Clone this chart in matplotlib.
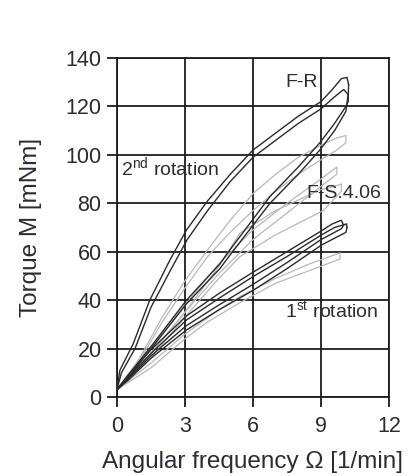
import matplotlib
matplotlib.use('Agg')
import matplotlib.pyplot as plt

plt.rcParams['font.family'] = ['Liberation Sans', 'DejaVu Sans']
plt.rcParams['mathtext.fontset'] = 'custom'
plt.rcParams['mathtext.rm'] = 'Liberation Sans'
plt.rcParams['mathtext.it'] = 'Liberation Sans:italic'

# ---- axis ticks ----
x_ticks = [0, 3, 6, 9, 12]
y_ticks = [0, 20, 40, 60, 80, 100, 120, 140]

# ---- dark curves (F-R), upper loop: 2nd rotation ascending + descending ----
up1_w = [0, 0.13, 0.72, 1.45, 2.34, 3.07, 4.0, 5.0, 6.0, 7.0, 8.0, 9.0, 9.5, 9.9, 10.15, 10.22]
up1_t = [3, 11, 22, 40, 56.6, 69, 81, 92, 102, 109, 116, 122, 127, 131.5, 132, 129]
dn1_w = [10.22, 10.2, 10.1, 9.6, 8.95, 8.0, 6.75, 6.09, 4.98, 4.54, 3.07, 1.6, 0.5, 0]
dn1_t = [129, 122, 120, 113, 105, 95, 82.8, 74.5, 60.7, 55, 40, 22, 9, 3]

up2_w = [0, 0.2, 0.8, 1.5, 2.4, 3.1, 4.0, 5.0, 6.0, 7.0, 8.0, 9.0, 9.6, 10.0, 10.2]
up2_t = [3, 10, 20, 37, 53, 65, 77, 89, 99, 106, 113, 119, 124, 127, 125]
dn2_w = [10.2, 10.1, 9.6, 8.95, 8.0, 6.75, 6.09, 4.98, 4.54, 3.07, 1.6, 0.5, 0]
dn2_t = [125, 118, 110, 102, 92, 80, 72, 58.5, 53, 38.5, 21, 8, 3]

# ---- dark curves, lower loop: 1st rotation ----
lo1_w = [0, 0.5, 1.5, 3.07, 4.54, 6.0, 7.5, 9.03, 9.6, 10.13, 10.15]
lo1_t = [3, 8, 18, 31.8, 41, 49.7, 58, 67, 70, 71.5, 70]
lo2_w = [10.15, 10.1, 9.03, 7.5, 6.0, 4.5, 3.07, 1.5, 0.5, 0]
lo2_t = [70, 68, 62.8, 53, 44, 36, 27.7, 16, 7, 3]
lo3_w = [0, 0.5, 1.5, 3.07, 4.54, 6.0, 7.5, 9.0, 9.5, 9.9, 10.0]
lo3_t = [3, 9, 19.5, 33.5, 43, 51.5, 60, 68.5, 71.5, 73, 71]
lo4_w = [10.0, 9.9, 9.0, 7.5, 6.0, 4.5, 3.07, 1.5, 0.5, 0]
lo4_t = [71, 69.5, 65, 55.5, 46.5, 38, 29.5, 17, 7.5, 3]

# ---- grey curves (F-S.4.06) ----
ga_w = [0, 1, 2, 3, 4.1, 5, 6, 7, 8, 9, 9.7, 10.1, 10.1, 9.7, 9, 8, 7, 6, 5, 4, 3, 2, 1, 0]
ga_t = [3, 16, 33, 48, 62, 73, 84, 92, 99, 104, 107, 108, 105, 102, 98, 92, 85, 77, 68, 58, 45, 31, 15, 3]
gb_w = [0, 1.5, 3, 4.5, 5.43, 7, 8.95, 9.6, 9.9, 9.9, 9.5, 9.1, 7, 5.43, 4.5, 3, 1.5, 0]
gb_t = [3, 18, 35, 54, 67.7, 77, 85.5, 87, 88, 85, 81, 77, 67, 58, 49, 33, 16, 3]
gc_w = [0, 1.5, 3, 4.5, 5.43, 7, 8.5, 9.84, 9.84, 9, 7, 5.43, 4, 3, 1.5, 0]
gc_t = [3, 14, 26, 36, 41.5, 49, 55, 59.5, 57, 54, 47, 39, 31, 24, 12, 3]
gd_w = [0, 1.5, 3, 4.5, 6, 7.5, 9, 9.7, 9.7, 9, 7.5, 6, 4.5, 3, 1.5, 0]
gd_t = [3, 20, 38, 55, 69, 80, 90, 95, 92, 87, 76, 65, 51, 35, 18, 3]

ink = '#1c1c1c'
txt = '#2b2b33'

fig = plt.figure(figsize=(4.16, 4.76), dpi=100)
fig.patch.set_facecolor('white')
ax = fig.add_axes([0.281, 0.166, 0.654, 0.712])
ax.set_xlim(0, 12)
ax.set_ylim(0, 140)
ax.set_xticks(x_ticks)
ax.set_yticks(y_ticks)
ax.grid(True, color=ink, lw=1.3, zorder=0)
ax.set_axisbelow(True)
for s in ax.spines.values():
    s.set_color(ink)
    s.set_linewidth(1.3)
ax.tick_params(direction='out', length=7, width=1.3, color=ink,
               labelsize=15.5, labelcolor=txt, pad=4)
ax.tick_params(axis='x', pad=6.5)

grey = '#b8b8b8'
for w, t in [(ga_w, ga_t), (gb_w, gb_t), (gc_w, gc_t), (gd_w, gd_t)]:
    ax.plot(w, t, color=grey, lw=0.9, zorder=2)

dark = '#2a2a2a'
for w, t in [(up1_w, up1_t), (dn1_w, dn1_t), (up2_w, up2_t), (dn2_w, dn2_t),
             (lo1_w, lo1_t), (lo2_w, lo2_t), (lo3_w, lo3_t), (lo4_w, lo4_t)]:
    ax.plot(w, t, color=dark, lw=1.0, zorder=3)

ax.text(8.85, 130, 'F-R', fontsize=14, color=txt, ha='right', va='center', zorder=5)
ax.text(8.35, 84, 'F-S.4.06', fontsize=14, color=txt, ha='left', va='center', zorder=5)
ax.text(0.2, 91.5, r'2$^{\mathrm{nd}}$ rotation', fontsize=14, color=txt,
        ha='left', va='baseline', zorder=5)
ax.text(7.4, 32.5, r'1$^{\mathrm{st}}$ rotation', fontsize=14, color=txt,
        ha='left', va='baseline', zorder=5)

ax.set_xlabel('Angular frequency Ω [1/min]', fontsize=17.5, color=txt, labelpad=10)
ax.set_ylabel('Torque M [mNm]', fontsize=17.5, color=txt, labelpad=17)

fig.savefig('out.png', dpi=100, facecolor='white')
